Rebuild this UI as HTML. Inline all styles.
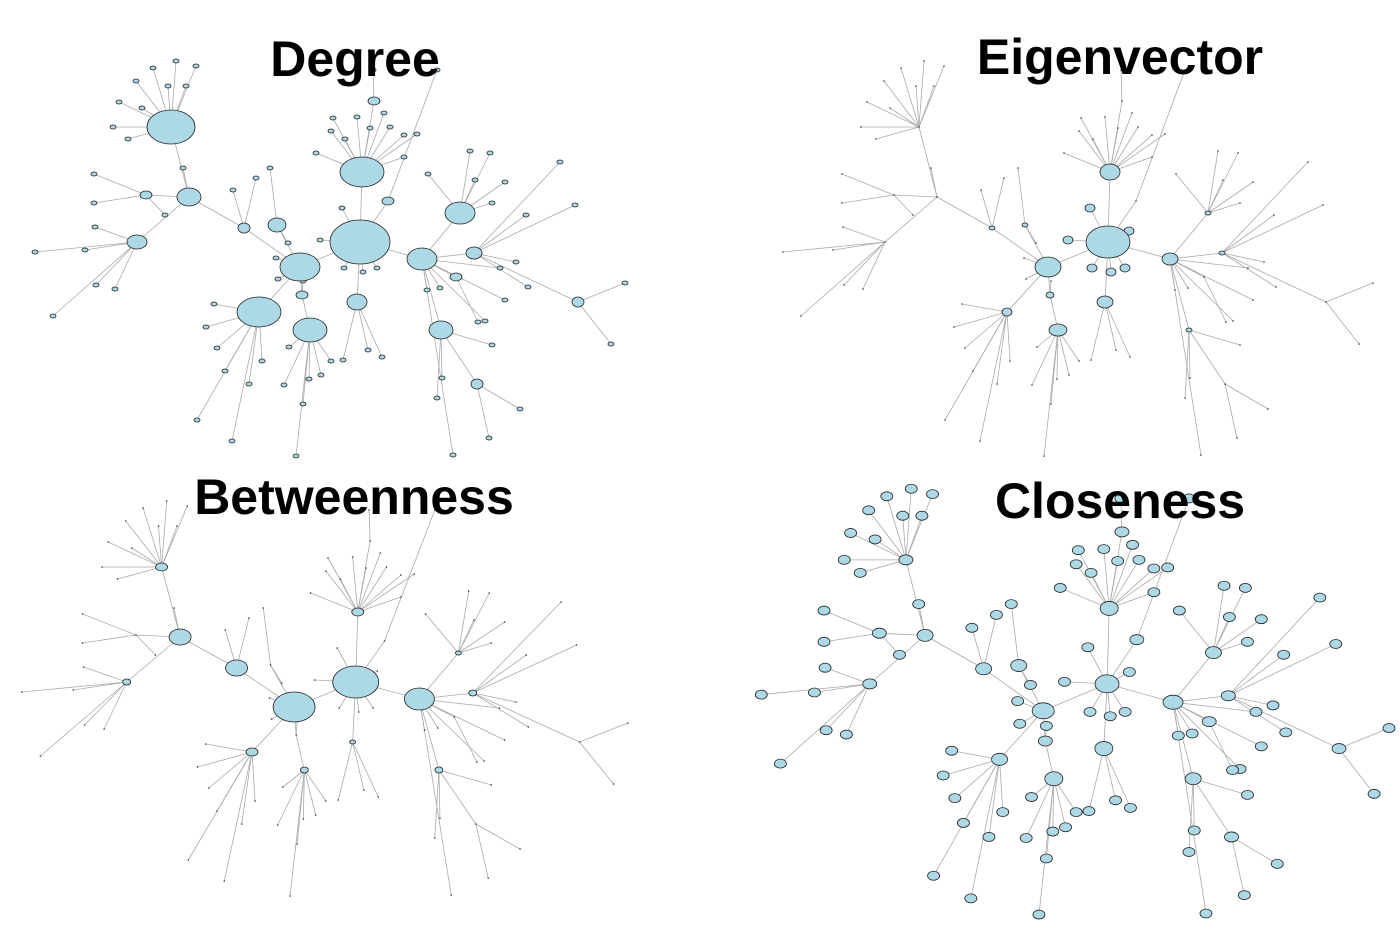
<!DOCTYPE html>
<html><head><meta charset="utf-8">
<style>
html,body{margin:0;padding:0;background:#fff;width:1400px;height:938px;overflow:hidden}
svg{display:block}
text{font-family:"Liberation Sans",Arial,sans-serif;font-weight:bold;font-size:50px;fill:#000}
</style></head>
<body>
<svg id="s" width="1400" height="938" viewBox="0 0 1400 938" xmlns="http://www.w3.org/2000/svg">
<g id="edges" stroke="#aaa" stroke-width="0.8" fill="none"></g>
<g id="nodes" fill="#add8e6" stroke="#222" stroke-width="0.8"></g>
<text x="355" y="76" text-anchor="middle">Degree</text>
<text x="1120" y="74" text-anchor="middle">Eigenvector</text>
<text x="354" y="514" text-anchor="middle">Betweenness</text>
<text x="1120" y="518" text-anchor="middle">Closeness</text>
</svg>
<script>
var hubs={A:[171,127],B:[189,197],C:[137,242],D:[146,195],E:[360,242],F:[362,172],G:[277,225],H:[244,228],
I:[300,267],J:[259,312],K:[310,330],L:[302,295],M:[357,302],N:[422,259],O:[460,213],P:[441,330],Q:[474,253],
R:[388,201],S:[374,101],T:[578,302],U:[477,384],V:[456,277]};
var hedges=[["A","B"],["B","C"],["B","D"],["B","H"],["H","I"],["G","I"],["I","E"],["E","F"],["E","M"],["E","N"],
["I","J"],["I","L"],["L","K"],["N","O"],["N","Q"],["N","P"],["E","R"],["F","S"],["Q","T"],["P","U"],["N","V"]];
var leaves={A:[[119,102],[113,127],[128,139],[136,81],[153,68],[176,61],[196,66],[168,86],[186,86],[142,108]],
B:[[183,168]],C:[[95,227],[85,250],[35,252],[96,285],[53,316],[115,289]],D:[[94,174],[94,203],[165,215]],
H:[[233,190],[256,178]],G:[[270,168],[288,243]],I:[[276,258],[278,279]],
J:[[214,304],[206,327],[217,348],[225,371],[197,420],[232,441],[249,384],[262,361]],
K:[[284,385],[303,404],[309,379],[296,456],[321,375],[331,361],[289,347]],L:[[303,281]],
M:[[368,350],[382,357],[343,360]],E:[[344,268],[363,272],[377,268],[342,208],[320,240],[381,231]],
F:[[333,118],[331,131],[345,139],[357,117],[384,113],[390,127],[404,135],[404,157],[316,153],[417,134],[370,128]],
R:[[437,70]],S:[[373,70]],N:[[427,290],[440,288],[485,321],[505,300],[500,268],[453,455]],
O:[[470,151],[490,153],[505,182],[492,203],[475,180],[428,174]],Q:[[526,215],[560,162],[575,205],[516,262],[528,287]],
P:[[437,398],[442,378],[492,345]],T:[[625,283],[611,344]],U:[[520,409],[489,438]],V:[[478,322]]};
var panels=[
 {tx:function(x){return x},ty:function(y){return y},
  hs:{A:[24,17],B:[12,9],C:[10,7],D:[6,4],E:[30,22],F:[22,15],G:[9,7],H:[6,5],I:[20,14],J:[22,15],K:[17,12],L:[6,4],M:[10,8],N:[15,11],O:[15,11],P:[12,9],Q:[8,6],R:[6,4],S:[6,4],T:[6,5],U:[6,5],V:[6,4]},
  leaf:function(p){return [3,2]}},
 {tx:function(x){return x+748},ty:function(y){return y},
  hs:{E:[22,16],F:[10,8],I:[13,10],M:[8,6],N:[8,6],K:[9,6],J:[5,4],L:[4,3],H:[3,2],G:[3,2],O:[3,2],P:[3,2],Q:[3,2]},
  leaf:function(p){return p=="E"?[5,4]:null}},
 {tx:function(x){return x*1.027-14},ty:function(y){return y+440},
  hs:{E:[23,16],I:[21,15],N:[15,11],B:[11,8],H:[11,8],F:[6,4],A:[6,4],C:[4,3],J:[6,4],K:[4,3],M:[3,2],O:[3,2],Q:[4,3],P:[4,3]},
  leaf:function(p){return null}},
 {tx:function(x){return x*1.064+724},ty:function(y){return y*1.078+423},
  hs:{E:[12,9],I:[11,8],N:[10,7],F:[9,7],J:[8,6],K:[9,7],M:[9,7],B:[8,6],C:[7,5],O:[8,6],P:[8,6],H:[8,6],G:[8,6],A:[7,5]},
  defh:[7,5],leaf:function(p){return [6,4.5]}}
];
var eg=document.getElementById("edges"),ng=document.getElementById("nodes");
var NS="http://www.w3.org/2000/svg";
function line(a,b,c,d){var l=document.createElementNS(NS,"line");l.setAttribute("x1",a);l.setAttribute("y1",b);l.setAttribute("x2",c);l.setAttribute("y2",d);eg.appendChild(l);}
function ell(x,y,r){if(!r)return;var e=document.createElementNS(NS,"ellipse");e.setAttribute("cx",x);e.setAttribute("cy",y);e.setAttribute("rx",r[0]);e.setAttribute("ry",r[1]);ng.appendChild(e);}
function dot(x,y){var e=document.createElementNS(NS,"circle");e.setAttribute("cx",x);e.setAttribute("cy",y);e.setAttribute("r",0.8);e.setAttribute("fill","#333");e.setAttribute("stroke","none");ng.appendChild(e);}
panels.forEach(function(P){
 function X(p){return P.tx(p[0])}function Y(p){return P.ty(p[1])}
 hedges.forEach(function(e){line(X(hubs[e[0]]),Y(hubs[e[0]]),X(hubs[e[1]]),Y(hubs[e[1]]));});
 for(var k in leaves){leaves[k].forEach(function(l){line(X(hubs[k]),Y(hubs[k]),X(l),Y(l));});}
 for(var k in leaves){leaves[k].forEach(function(l){var r=P.leaf(k);if(r)ell(X(l),Y(l),r);else dot(X(l),Y(l));});}
 for(var h in hubs){var r=P.hs[h]||P.defh;if(r)ell(X(hubs[h]),Y(hubs[h]),r);else dot(X(hubs[h]),Y(hubs[h]));}
});
</script>
</body></html>
